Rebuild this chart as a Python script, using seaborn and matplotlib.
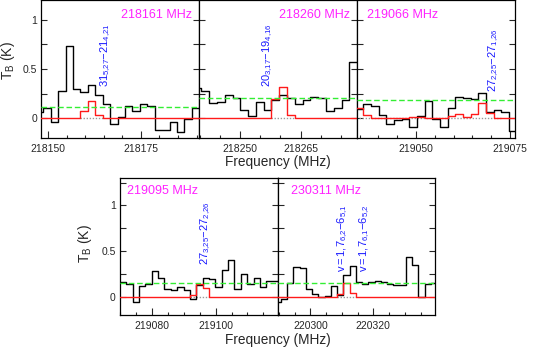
import numpy as np
import pandas as pd
import seaborn as sns
import matplotlib.pyplot as plt
import matplotlib.transforms as mtransforms
from matplotlib.ticker import MultipleLocator, FuncFormatter

# ---- data (T_B in K, frequencies in MHz) ----
rest_labels = ["218161 MHz", "218260 MHz", "219066 MHz", "219095 MHz", "230311 MHz"]

# panel 1
p1_start, p1_width = 218147.74, 2.0
p1_obs = [0.06, 0.10, -0.04, 0.28, 0.73, 0.30, 0.27, 0.34, 0.24, 0.15, -0.06,
          0.01, 0.12, 0.07, 0.14, 0.12, -0.115, -0.115, -0.035, -0.14, -0.01, 0.10]
p1_model = [0, 0, 0, 0, 0, 0, 0.07, 0.18, 0.03, 0, 0,
            0, 0, 0, 0, 0, 0, 0, 0, 0, 0, 0]
p1_rms = 0.11
p1_lines = [r"$\mathrm{31_{5{,}27}{-}21_{4{,}21}}$"]
p1_line_x = [218165.5]

# panel 2
p2_start, p2_width = 218239.41, 1.934
p2_obs = [0.31, 0.28, 0.16, 0.17, 0.24, 0.21, 0.08, 0.02, 0.17, 0.085, 0.19,
          0.24, 0.21, 0.14, 0.19, 0.22, 0.21, 0.07, 0.105, 0.19, 0.57]
p2_model = [0, 0, 0, 0, 0, 0, 0, 0, 0, 0, 0.20,
            0.32, 0.03, 0, 0, 0, 0, 0, 0, 0, 0]
p2_rms = 0.21
p2_lines = [r"$\mathrm{20_{3{,}17}{-}19_{4{,}16}}$"]
p2_line_x = [218256.9]

# panel 3
p3_start, p3_width = 219034.96, 2.04
p3_obs = [0.095, 0.14, 0.12, 0.037, -0.06, -0.015, -0.007, -0.09, 0.02, 0.18, -0.007,
          -0.09, 0.105, 0.22, 0.21, 0.20, 0.26, 0.06, 0.08, 0.06, -0.125]
p3_model = [0.10, 0.03, 0, 0, 0, 0, 0, 0.01, 0.01, 0, 0,
            0, 0.02, 0.045, 0.01, 0.045, 0.155, 0.055, 0.005, 0, 0]
p3_rms = 0.19
p3_lines = [r"$\mathrm{27_{2{,}25}{-}27_{1{,}26}}$"]
p3_line_x = [219070.7]

# panel 4
p4_start, p4_width = 219070.9, 2.0
p4_obs = [0.16, 0.135, -0.055, 0.12, 0.14, 0.28, 0.21, 0.085, 0.075, 0.11, 0.073, -0.03,
          0.13, 0.21, 0.19, 0.11, 0.29, 0.40, 0.084, 0.25, 0.14, 0.20, 0.11, 0.175, 0.17]
p4_model = [0, 0, 0, 0, 0, 0, 0, 0, 0, 0, 0, 0.02,
            0.135, 0.10, 0, 0, 0, 0, 0, 0, 0, 0, 0, 0, 0]
p4_rms = 0.15
p4_lines = [r"$\mathrm{27_{3{,}25}{-}27_{2{,}26}}$"]
p4_line_x = [219097.0]

# panel 5
p5_start, p5_width = 220289.66, 1.983
p5_obs = [-0.055, -0.02, 0.145, 0.33, 0.32, 0.085, 0.03, 0.0, 0.01, 0.12, 0.02, 0.24, 0.34,
          0.156, 0.14, 0.156, 0.175, 0.156, 0.14, 0.13, 0.13, 0.44, 0.35, -0.007, 0.14, 0.15]
p5_model = [0, 0, 0, 0, 0, 0, 0, 0, 0, 0, 0.035, 0.145, 0.036,
            0, 0, 0, 0, 0, 0, 0, 0, 0, 0, 0, 0, 0]
p5_rms = 0.15
p5_lines = [r"$\mathrm{v{=}1{,}7_{6{,}2}{-}6_{5{,}1}}$", r"$\mathrm{v{=}1{,}7_{6{,}1}{-}6_{5{,}2}}$"]
p5_line_x = [220310.3, 220317.2]

# ---- layout ----
xlims = [(218148.25, 218190.7), (218239.83, 218279.0), (219034.3, 219076.2),
         (219069.9, 219119.5), (220289.6, 220339.7)]
major_steps = [25, 15, 25, 20, 20]
W = 0.2953
top_rect = [(0.0777, 0.6023), (0.3730, 0.6023), (0.6683, 0.6023)]
bot_rect = [(0.2247, 0.0922), (0.5200, 0.0922)]

sns.set_theme(style="ticks")
plt.rcParams["font.family"] = ["Liberation Sans", "DejaVu Sans"]
plt.rcParams["mathtext.fontset"] = "custom"
plt.rcParams["mathtext.rm"] = "Liberation Sans"
plt.rcParams["mathtext.it"] = "Liberation Sans:italic"


def step_table(start, width, values):
    centers = start + width * np.arange(len(values))
    x = np.repeat(centers, 2) + np.tile([-width / 2, width / 2], len(values))
    return pd.DataFrame({"freq": x, "tb": np.repeat(values, 2)}), centers


def ytick_fmt(v, p):
    if abs(v * 2 - round(v * 2)) > 1e-9:
        return ""
    return "0" if abs(v) < 1e-9 else f"{v:g}"


def draw_panel(ax, start, width, obs, model, rms, lines, line_x, label, text,
               xlim, ylim, step, line_y, show_y):
    df_obs, centers = step_table(start, width, obs)
    df_mod, _ = step_table(start, width, model)
    nz = np.nonzero(model)[0]
    ax.hlines(0, centers[nz[0]] - width / 2, centers[nz[-1]] + width / 2,
              color="#9a9a9a", linestyle=(0, (1, 1.2)), lw=1.0, zorder=2)
    sns.lineplot(data=df_obs, x="freq", y="tb", sort=False, estimator=None,
                 color="black", lw=1.0, ax=ax, zorder=3)
    sns.lineplot(data=df_mod, x="freq", y="tb", sort=False, estimator=None,
                 color="#ff1a1a", lw=1.0, ax=ax, zorder=4)
    ax.axhline(rms, color="#33ee33", lw=1.0, dashes=(4, 2), zorder=5)
    ax.set_xlim(*xlim)
    ax.set_ylim(*ylim)
    ax.xaxis.set_major_locator(MultipleLocator(step))
    ax.xaxis.set_minor_locator(MultipleLocator(5))
    ax.xaxis.set_major_formatter(FuncFormatter(lambda v, p: f"{v:.0f}"))
    ax.yaxis.set_major_locator(MultipleLocator(0.25))
    ax.yaxis.set_major_formatter(FuncFormatter(ytick_fmt))
    ax.tick_params(axis="x", which="major", direction="in", length=5, width=0.8,
                   labelsize=7.5, pad=4, top=False)
    ax.tick_params(axis="x", which="minor", direction="in", length=2.5, width=0.8, top=False)
    ax.tick_params(axis="y", which="major", direction="in", length=4, width=0.8,
                   labelsize=7.5, right=True, left=True, labelleft=show_y, pad=3)
    for s in ax.spines.values():
        s.set_linewidth(0.9)
        s.set_color("black")
    ax.set_xlabel("")
    ax.set_ylabel("")
    if show_y:
        ax.set_ylabel(r"T$_\mathrm{B}$ (K)", fontsize=10, va="center")
    ax.text(*label, text, transform=ax.transAxes, color="#ff22ff",
            fontsize=9, ha="left", va="center")
    trans = mtransforms.blended_transform_factory(ax.transData, ax.transAxes)
    for txt, lx in zip(lines, line_x):
        ax.text(lx, line_y, txt, transform=trans, rotation=90, color="#1a1aff",
                fontsize=8, ha="center", va="bottom")


fig = plt.figure(figsize=(5.34, 3.47), dpi=100)

panels = [
    (p1_start, p1_width, p1_obs, p1_model, p1_rms, p1_lines, p1_line_x, (0.502, 0.891)),
    (p2_start, p2_width, p2_obs, p2_model, p2_rms, p2_lines, p2_line_x, (0.507, 0.891)),
    (p3_start, p3_width, p3_obs, p3_model, p3_rms, p3_lines, p3_line_x, (0.065, 0.891)),
    (p4_start, p4_width, p4_obs, p4_model, p4_rms, p4_lines, p4_line_x, (0.043, 0.905)),
    (p5_start, p5_width, p5_obs, p5_model, p5_rms, p5_lines, p5_line_x, (0.082, 0.905)),
]
line_ys = [0.37, 0.37, 0.335, 0.365, 0.314]

for i, pan in enumerate(panels):
    if i < 3:
        x0, y0 = top_rect[i]
        ax = fig.add_axes([x0, y0, W, 0.3977])
        ylim = (-0.2, 1.2)
    else:
        x0, y0 = bot_rect[i - 3]
        ax = fig.add_axes([x0, y0, W, 0.3948])
        ylim = (-0.2, 1.3)
    draw_panel(ax, *pan, rest_labels[i], xlims[i], ylim, major_steps[i], line_ys[i], i in (0, 3))
    if i in (0, 3):
        ax.yaxis.set_label_coords(-0.215 if i == 0 else -0.225, 0.56 if i == 0 else 0.52)

fig.text(278 / 534, 1 - 162 / 347, "Frequency (MHz)", ha="center", va="center", fontsize=9.8)
fig.text(278 / 534, 1 - 340 / 347, "Frequency (MHz)", ha="center", va="center", fontsize=9.8)

fig.savefig("out.png", dpi=100)
